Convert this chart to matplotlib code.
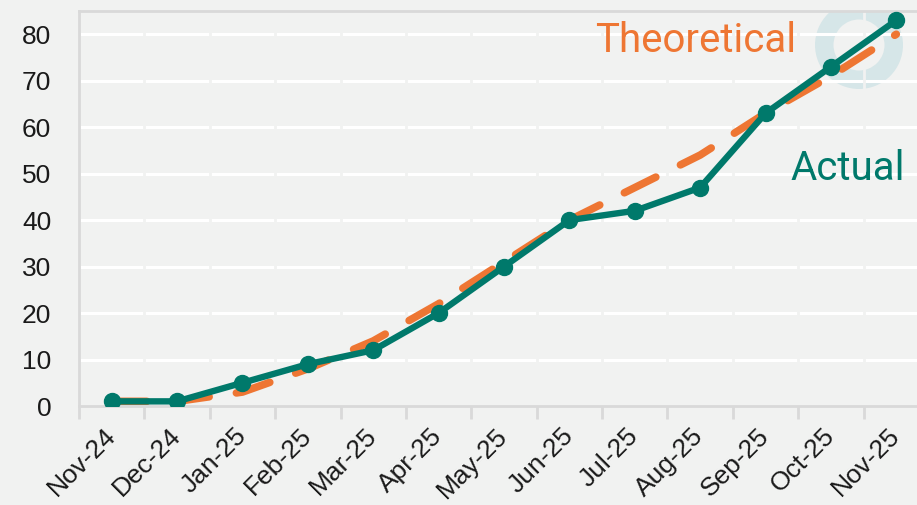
import matplotlib
matplotlib.use("Agg")
import matplotlib.pyplot as plt
import numpy as np
from matplotlib.patches import Wedge

months = ["Nov-24", "Dec-24", "Jan-25", "Feb-25", "Mar-25", "Apr-25", "May-25",
          "Jun-25", "Jul-25", "Aug-25", "Sep-25", "Oct-25", "Nov-25"]
actual = [1, 1, 5, 9, 12, 20, 30, 40, 42, 47, 63, 73, 83]
theoretical = [1, 1, 3, 8, 14, 22, 31, 40, 47, 54, 63, 71, 80]
yticks = [0, 10, 20, 30, 40, 50, 60, 70, 80]

BG = "#f1f2f1"
TEAL = "#00796b"
ORANGE = "#ee7633"
RING = "#d6e6e8"
FRAME = "#d9d9d9"

fig = plt.figure(figsize=(9.17, 5.05), dpi=100, facecolor=BG)
ax = fig.add_axes([79/917, 99/505, 850/917, 395/505], facecolor=BG)

x = np.arange(len(months))
ax.set_xlim(-0.5, len(months) - 0.5)
ax.set_ylim(0, 85)

# logo ring (behind everything)
ring = Wedge((8.59, 4.60), 0.44, 0, 360, width=0.185, transform=fig.dpi_scale_trans,
             facecolor=RING, edgecolor="none", zorder=0.5)
ax.add_patch(ring)

for yv in yticks[1:]:
    ax.axhline(yv, color="white", lw=2.2, zorder=1)
for b in np.arange(-0.5, len(months), 1.0):
    ax.axvline(b, color=BG, lw=2.0, zorder=1.1)

ax.plot(x, theoretical, color=ORANGE, lw=5.5, dashes=(4.6, 3.6),
        dash_capstyle="round", zorder=2)
ax.plot(x, actual, color=TEAL, lw=4.6, marker="o", markersize=11.5,
        solid_capstyle="round", zorder=3)

ax.set_yticks(yticks)
ax.set_yticklabels([str(v) for v in yticks], fontsize=19, fontfamily="Liberation Sans",
                   color="#1a1a1a")
ax.tick_params(axis="y", length=0, pad=20)

ax.set_xticks(x)
ax.set_xticklabels(months, rotation=45, ha="right", va="center", rotation_mode="anchor",
                   fontsize=19, fontfamily="Liberation Sans", color="#1a1a1a")
ax.tick_params(axis="x", which="major", length=0, pad=19)
ax.set_xticks(np.arange(-0.5, len(months), 1.0), minor=True)
ax.tick_params(axis="x", which="minor", length=9, width=2, color=FRAME, direction="out")

for side in ["left", "top", "bottom"]:
    ax.spines[side].set_color(FRAME)
    ax.spines[side].set_linewidth(2)
ax.spines["right"].set_visible(False)

fig.text(595/917, 1 - 52/505, "Theoretical", color=ORANGE, fontsize=29,
         fontfamily="Roboto", ha="left", va="baseline")
fig.text(790/917, 1 - 180/505, "Actual", color=TEAL, fontsize=29,
         fontfamily="Roboto", ha="left", va="baseline")

fig.savefig("out.png", dpi=100, facecolor=BG)
